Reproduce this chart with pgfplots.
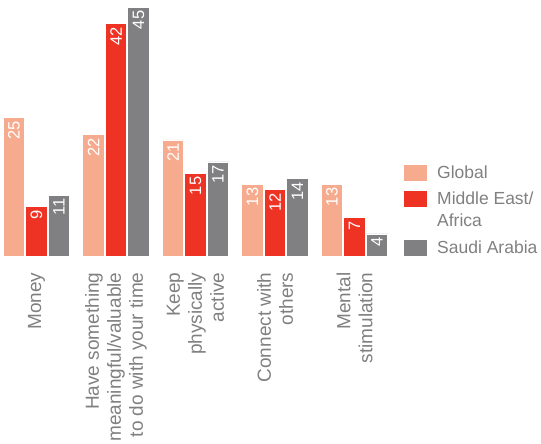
\documentclass[border=0pt]{standalone}
\usepackage{fontspec}
\setmainfont{Liberation Sans}
\usepackage{pgfplots}
\pgfplotsset{compat=1.18}
\definecolor{cglobal}{RGB}{247,171,142}
\definecolor{cmea}{RGB}{238,50,36}
\definecolor{csa}{RGB}{128,128,130}
\definecolor{ctext}{RGB}{128,128,128}
\pgfplotsset{mealegend/.style={legend image code/.code={\fill[##1,draw=none] (0pt,3pt) rectangle (23pt,19pt); \path[draw=none,fill=none] (0pt,0pt) -- (31pt,0pt);}}}
\begin{document}
\begin{tikzpicture}
\path[use as bounding box] (0,0) rectangle (541pt,444pt);
\begin{axis}[
  at={(-3.25pt,188pt)}, anchor=south west,
  x=79.5pt, y=5.53pt,
  xmin=-0.5, xmax=4.5, ymin=0, ymax=46,
  ybar=1pt, bar width=21.5pt,
  axis line style={draw=none},
  ytick=\empty,
  xtick={0,1,2,3,4},
  xticklabels={Money,{Have something\\meaningful/valuable\\to do with your time},{Keep\\physically\\active},{Connect with\\others},{Mental\\stimulation}},
  major tick length=0pt,
  xticklabel shift=13pt,
  xticklabel style={rotate=90, anchor=east, align=right, text=ctext, font=\fontsize{19}{22}\selectfont},
  /pgf/number format/assume math mode=true,
  nodes near coords,
  every node near coord/.append style={rotate=90, anchor=east, text=white, font=\fontsize{16.5}{16}\selectfont},
  legend style={at={(1.017,0.37)}, anchor=north west, draw=none, fill=none, text=ctext,
    font=\fontsize{17.5}{22}\selectfont, cells={anchor=west, align=left}, row sep=8pt},
  legend image code/.code={\fill[#1,draw=none] (0pt,-8pt) rectangle (23pt,8pt); \path[draw=none,fill=none] (0pt,0pt) -- (31pt,0pt);},
  clip=false,
]
\addplot[fill=cglobal, draw=white, line width=0.6pt] coordinates {(0,25) (1,22) (2,21) (3,13) (4,13)};
\addplot[fill=cmea, draw=white, line width=0.6pt, mealegend] coordinates {(0,9) (1,42) (2,15) (3,12) (4,7)};
\addplot[fill=csa, draw=white, line width=0.6pt] coordinates {(0,11) (1,45) (2,17) (3,14) (4,4)};
\legend{Global,{Middle East/\\Africa},Saudi Arabia}
\end{axis}
\end{tikzpicture}
\end{document}
